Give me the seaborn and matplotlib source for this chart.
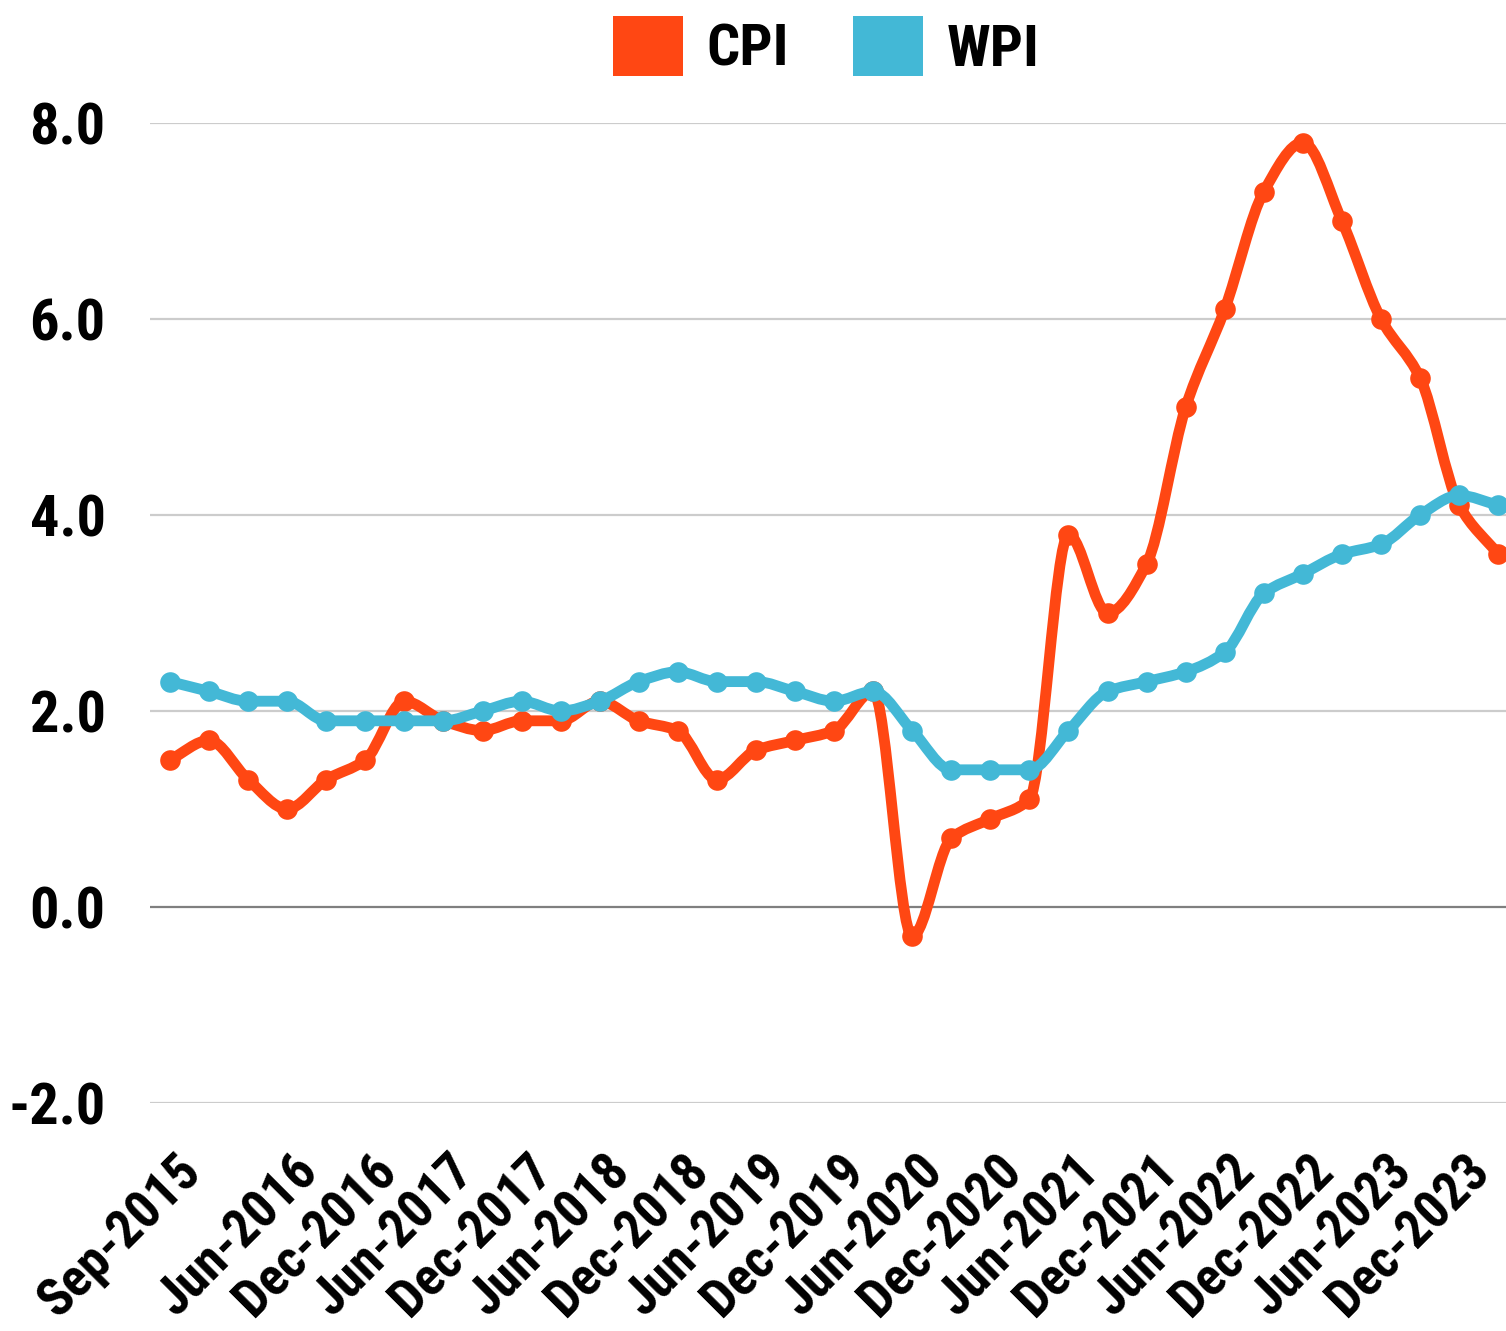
import matplotlib
matplotlib.use("Agg")
import matplotlib.pyplot as plt
import matplotlib.transforms as mtransforms
from matplotlib.path import Path
from matplotlib.patches import PathPatch, Patch
import numpy as np
import pandas as pd
import seaborn as sns

# quarterly data, Sep-2015 .. Mar-2024
quarters = [
    "Sep-2015", "Dec-2015", "Mar-2016", "Jun-2016", "Sep-2016", "Dec-2016",
    "Mar-2017", "Jun-2017", "Sep-2017", "Dec-2017", "Mar-2018", "Jun-2018",
    "Sep-2018", "Dec-2018", "Mar-2019", "Jun-2019", "Sep-2019", "Dec-2019",
    "Mar-2020", "Jun-2020", "Sep-2020", "Dec-2020", "Mar-2021", "Jun-2021",
    "Sep-2021", "Dec-2021", "Mar-2022", "Jun-2022", "Sep-2022", "Dec-2022",
    "Mar-2023", "Jun-2023", "Sep-2023", "Dec-2023", "Mar-2024",
]
cpi = [1.5, 1.7, 1.3, 1.0, 1.3, 1.5, 2.1, 1.9, 1.8, 1.9, 1.9, 2.1,
       1.9, 1.8, 1.3, 1.6, 1.7, 1.8, 2.2, -0.3, 0.7, 0.9, 1.1, 3.8,
       3.0, 3.5, 5.1, 6.1, 7.3, 7.8, 7.0, 6.0, 5.4, 4.1, 3.6]
wpi = [2.3, 2.2, 2.1, 2.1, 1.9, 1.9, 1.9, 1.9, 2.0, 2.1, 2.0, 2.1,
       2.3, 2.4, 2.3, 2.3, 2.2, 2.1, 2.2, 1.8, 1.4, 1.4, 1.4, 1.8,
       2.2, 2.3, 2.4, 2.6, 3.2, 3.4, 3.6, 3.7, 4.0, 4.2, 4.1]
shown_labels = ["Sep-2015", "Jun-2016", "Dec-2016", "Jun-2017", "Dec-2017",
                "Jun-2018", "Dec-2018", "Jun-2019", "Dec-2019", "Jun-2020",
                "Dec-2020", "Jun-2021", "Dec-2021", "Jun-2022", "Dec-2022",
                "Jun-2023", "Dec-2023"]
y_ticks = [-2.0, 0.0, 2.0, 4.0, 6.0, 8.0]

colors = {"CPI": "#FF4713", "WPI": "#43B8D6"}

df = pd.DataFrame({"idx": range(len(quarters)), "quarter": quarters,
                   "CPI": cpi, "WPI": wpi})
long_df = df.melt(id_vars=["idx", "quarter"], value_vars=["CPI", "WPI"],
                  var_name="series", value_name="value")

sns.set_theme(style="white")
plt.rcParams["font.family"] = ["Roboto Condensed", "Liberation Sans Narrow", "Roboto", "DejaVu Sans"]
plt.rcParams["font.weight"] = "bold"
plt.rcParams["text.color"] = "black"
plt.rcParams["xtick.color"] = "black"
plt.rcParams["ytick.color"] = "black"

fig = plt.figure(figsize=(15.06, 13.31), dpi=100)
ax = fig.add_axes([150 / 1506, 1 - 1103 / 1331, 1356 / 1506, 980 / 1331])


def smooth_path(xs, ys):
    # monotone cubic (fritsch-carlson) segments as bezier curves
    x = np.asarray(xs, dtype=float)
    y = np.asarray(ys, dtype=float)
    h = np.diff(x)
    d = np.diff(y) / h
    m = np.zeros_like(y)
    m[0], m[-1] = d[0], d[-1]
    for k in range(1, len(y) - 1):
        if d[k - 1] * d[k] > 0:
            m[k] = 2 / (1 / d[k - 1] + 1 / d[k])
    verts = [(x[0], y[0])]
    codes = [Path.MOVETO]
    for i in range(len(y) - 1):
        verts += [(x[i] + h[i] / 3, y[i] + m[i] * h[i] / 3),
                  (x[i + 1] - h[i] / 3, y[i + 1] - m[i + 1] * h[i] / 3),
                  (x[i + 1], y[i + 1])]
        codes += [Path.CURVE4] * 3
    return Path(verts, codes)


for z, name in enumerate(["CPI", "WPI"]):
    sub = long_df[long_df.series == name]
    ax.add_patch(PathPatch(smooth_path(sub.idx, sub.value), facecolor="none",
                           edgecolor=colors[name], lw=7.8, capstyle="round",
                           joinstyle="round", zorder=3 + 2 * z))
    sns.scatterplot(data=sub, x="idx", y="value", color=colors[name], s=220,
                    linewidth=0, ax=ax, zorder=4 + 2 * z, legend=False)

ax.set_xlim(-0.512, 34.2)
ax.set_ylim(-2, 8)
ax.tick_params(axis="both", length=0, pad=0)
ax.tick_params(axis="y", pad=32)

ax.set_yticks(y_ticks)
ax.set_yticklabels([f"{v:.1f}" for v in y_ticks], fontsize=42, fontweight="bold")
for v in y_ticks:
    ax.axhline(v, color="#7f7f7f" if v == 0 else "#cccccc", lw=1.6, zorder=1)

tick_pos = [quarters.index(q) for q in shown_labels]
ax.set_xticks(tick_pos)
ax.set_xticklabels(shown_labels, fontsize=38, fontweight="bold", rotation=45,
                   ha="right", va="top", rotation_mode="anchor")
offset = mtransforms.ScaledTranslation(0.05, -0.42, fig.dpi_scale_trans)
for lab in ax.get_xticklabels():
    lab.set_transform(lab.get_transform() + offset)

ax.set_xlabel("")
ax.set_ylabel("")
sns.despine(ax=ax, left=True, bottom=True)
ax.grid(False)

handles = [Patch(facecolor=colors[k], edgecolor="none") for k in ["CPI", "WPI"]]
fig.legend(handles, ["CPI", "WPI"], loc="center", ncol=2, frameon=False,
           bbox_to_anchor=(826 / 1506, 1 - 47 / 1331),
           prop={"size": 42, "weight": "bold"},
           handlelength=1.2, handleheight=1.2, handletextpad=0.4,
           columnspacing=1.1)

fig.savefig("out.png", dpi=100)
